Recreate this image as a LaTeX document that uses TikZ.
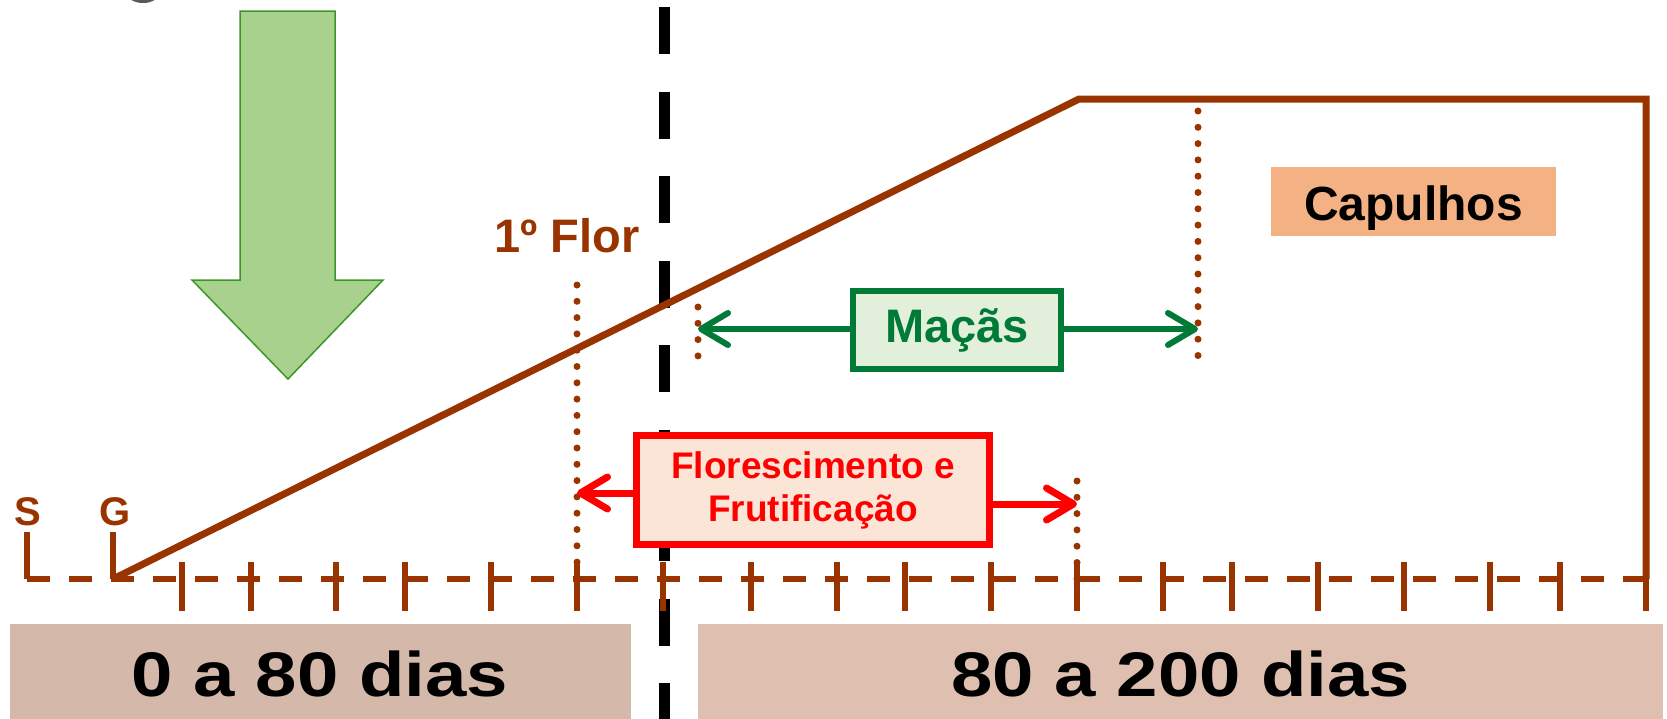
\documentclass[tikz,border=0pt]{standalone}
\usepackage{fontspec}
\usepackage{graphicx}
\setmainfont{Liberation Sans}
\usetikzlibrary{arrows.meta}
\definecolor{brownc}{RGB}{153,51,0}
\definecolor{greenc}{RGB}{0,122,55}
\definecolor{greenfill}{RGB}{226,239,218}
\definecolor{redc}{RGB}{255,0,0}
\definecolor{redfill}{RGB}{251,229,214}
\definecolor{capfill}{RGB}{244,177,131}
\definecolor{boxone}{RGB}{212,185,170}
\definecolor{boxtwo}{RGB}{223,192,176}
\definecolor{arrfill}{RGB}{169,209,142}
\definecolor{arrdraw}{RGB}{60,150,40}
\begin{document}
\begin{tikzpicture}[x=1pt,y=-1pt,
  brownline/.style={draw=brownc, line width=7pt, line join=miter},
  dotline/.style={draw=brownc, line width=7pt, line cap=round, dash pattern=on 0pt off 16.3pt},
  ticksty/.style={draw=brownc, line width=6pt},
  baseln/.style={draw=brownc, line width=6pt, dash pattern=on 23pt off 19pt},
  blackdash/.style={draw=black, line width=11pt, dash pattern=on 47pt off 37.5pt},
  barb/.style={-{Straight Barb[length=27pt,width=32pt,round]}},
  garrow/.style={barb, draw=greenc, line width=6pt},
  rarrow/.style={barb, draw=redc, line width=7pt},
  bottombox/.style={inner sep=0pt, minimum height=96pt},
  bottomtxt/.style={anchor=base, font=\fontsize{63}{70}\selectfont\bfseries},
  brownlab/.style={anchor=base, text=brownc, font=\fontsize{40}{44}\selectfont\bfseries},
]
\path[use as bounding box, clip] (0,0) rectangle (1667,718);
\fill[white] (0,0) rectangle (1667,718);

% faint grey shape at top edge
\fill[black!65] (143,-8) ellipse (17pt and 11pt);

% bottom period boxes
\node[bottombox, fill=boxone, minimum width=621pt] (b1) at (320.5,672) {};
\node[bottombox, fill=boxtwo, minimum width=965pt] (b2) at (1180,672) {};
\node[bottomtxt] (t1) at (320,696) {\scalebox{1.18}[1]{0 a 80 dias}};
\node[bottomtxt] (t2) at (1181,696) {\scalebox{1.18}[1]{80 a 200 dias}};

% black dashed divider
\coordinate (dtop) at (664,7);
\coordinate (dbot) at (664,730);
\draw[blackdash] (dtop) -- (dbot);

% big green arrow
\filldraw[fill=arrfill, draw=arrdraw, line width=1.5pt, line join=miter]
  (240,11) -- (335,11) -- (335,280) -- (383,280) -- (288,379) -- (192,280) -- (240,280) -- cycle;

% baseline
\coordinate (bl0) at (27,579);
\coordinate (bl1) at (1649,579);
\draw[baseln] (bl0) -- (bl1);
\foreach \x in {182,251,336,405,491,577,663,751,837,905,991,1077,1163,1232,1318,1404,1490,1560,1646}
  \draw[ticksty] (\x,562) -- (\x,611);

% S and G markers
\node[brownlab] (S) at (27.5,525) {S};
\node[brownlab] (G) at (115,525) {G};
\coordinate (Sb) at (27,579);
\coordinate (Gb) at (113,579);
\draw[ticksty] (27,532) -- (Sb);
\draw[ticksty] (113,532) -- (Gb);

% growth curve
\coordinate (peak) at (1079,99);
\coordinate (tr) at (1646,99);
\coordinate (br) at (1646,579);
\draw[brownline] (Gb) -- (peak) -- (tr) -- (br);

% 1º Flor
\node[anchor=base, text=brownc, font=\fontsize{47}{50}\selectfont\bfseries] (flor1) at (567,252) {1º Flor};

% dotted guide lines
\coordinate (dA1) at (577,285);  \coordinate (dA2) at (577,580);
\coordinate (dB1) at (698,307);  \coordinate (dB2) at (698,372);
\coordinate (dC1) at (1198,111); \coordinate (dC2) at (1198,357);
\coordinate (dD1) at (1077,481); \coordinate (dD2) at (1077,580);
\draw[dotline] (dA1) -- (dA2);
\draw[dotline] (dB1) -- (dB2);
\draw[dotline] (dC1) -- (dC2);
\draw[dotline] (dD1) -- (dD2);

% Maçãs
\node[draw=greenc, fill=greenfill, line width=6pt, minimum width=208pt, minimum height=78pt, inner sep=0pt,
      text=greenc, font=\fontsize{47}{50}\selectfont\bfseries] (mac) at (957,330) {Maçãs};
\coordinate (macL) at (698,329);
\coordinate (macR) at (1198,329);
\draw[garrow] (mac.west |- macL) -- (macL);
\draw[garrow] (mac.east |- macR) -- (macR);

% Florescimento e Frutificação
\node[draw=redc, fill=redfill, line width=7pt, minimum width=353pt, minimum height=109pt, inner sep=0pt,
      text=redc, align=center, font=\fontsize{37}{43}\selectfont\bfseries] (flor) at (813,490)
      {Florescimento e\\Frutificação};
\coordinate (florL) at (577,493);
\coordinate (florR) at (1077,504);
\draw[rarrow] (flor.west |- florL) -- (florL);
\draw[rarrow] (flor.east |- florR) -- (florR);

% Capulhos
\node[fill=capfill, minimum width=285pt, minimum height=69pt, inner sep=0pt] (cap) at (1413.5,201.5) {};
\node[anchor=base, font=\fontsize{48}{50}\selectfont\bfseries] (captxt) at (1413.5,220) {Capulhos};
\end{tikzpicture}
\end{document}
